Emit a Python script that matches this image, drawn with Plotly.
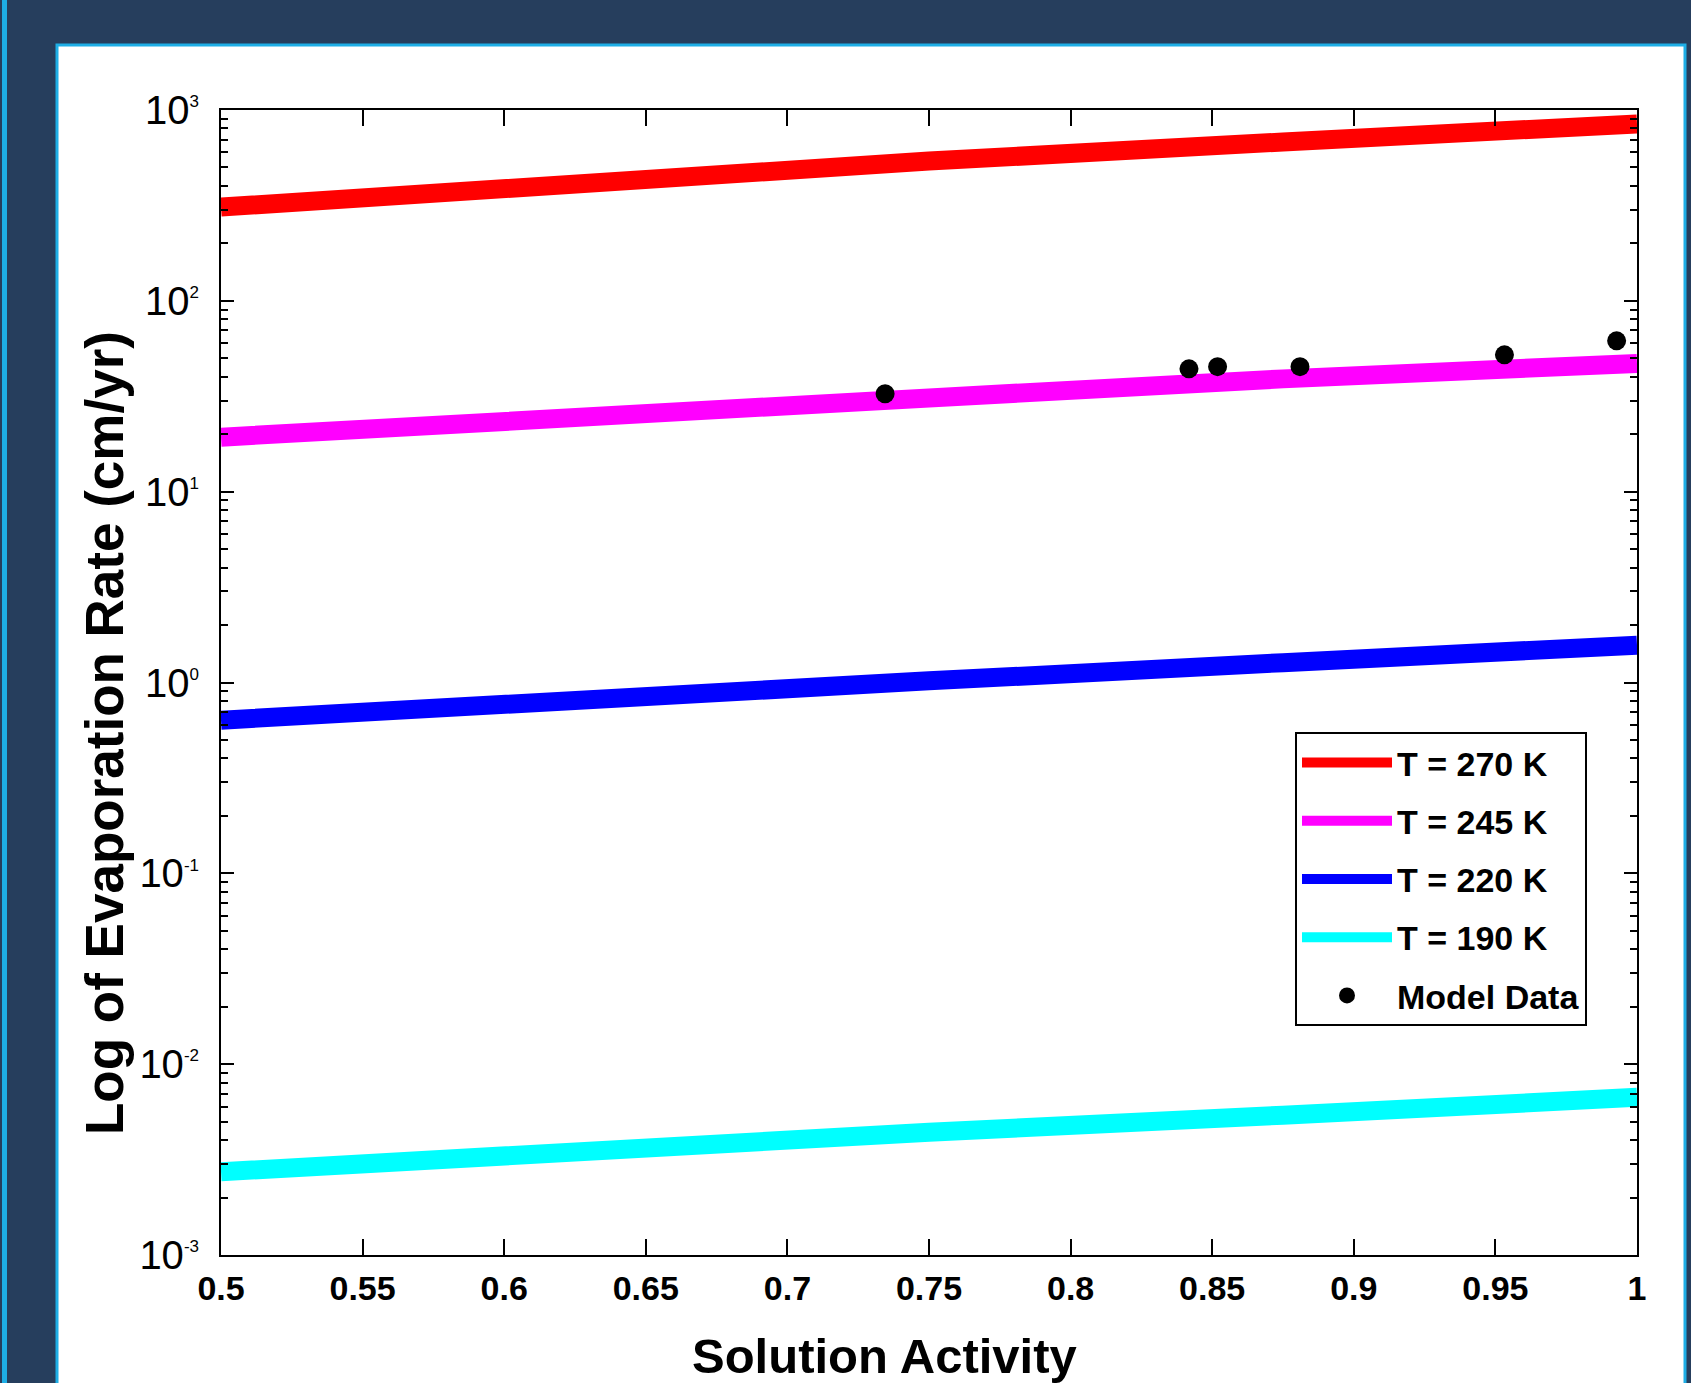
import plotly.graph_objects as go

# ---------------- data ----------------
activity = [0.5, 0.625, 0.75, 0.875, 1.0]
rate_270 = [310, 420, 540, 680, 845]
rate_245 = [19.3, 25, 31, 39, 47]
rate_220 = [0.635, 0.82, 1.02, 1.27, 1.57]
rate_190 = [0.00273, 0.0035, 0.0044, 0.0054, 0.0067]

model_activity = [0.7345, 0.8418, 0.8519, 0.881, 0.9532, 0.9928]
model_rate = [32.6, 44.0, 45.2, 45.2, 52.1, 61.7]

x_ticks = [0.5, 0.55, 0.6, 0.65, 0.7, 0.75, 0.8, 0.85, 0.9, 0.95, 1.0]
x_ticklabels = ["0.5", "0.55", "0.6", "0.65", "0.7", "0.75", "0.8", "0.85", "0.9", "0.95", "1"]
y_exponents = [-3, -2, -1, 0, 1, 2, 3]

series_names = ["T = 270 K", "T = 245 K", "T = 220 K", "T = 190 K"]
series_colors = ["#ff0000", "#ff00ff", "#0000ff", "#00ffff"]

# ---------------- layout geometry (pixels) ----------------
W, H = 1691, 1383
L, R, T, B = 221, 1637, 110, 1255
PW, PH = R - L, B - T


def px_x(px):
    return (px - L) / PW


def px_y(py):
    return (B - py) / PH


FONT = "Liberation Sans, Arial, sans-serif"
NAVY = "#263e5d"
CYAN = "#1eaee6"

fig = go.Figure()

for name, col, vals in zip(series_names, series_colors, [rate_270, rate_245, rate_220, rate_190]):
    fig.add_trace(go.Scatter(
        x=activity, y=vals, mode="lines", name=name,
        line=dict(color=col, width=19), legendgroup=name,
    ))

fig.add_trace(go.Scatter(
    x=model_activity, y=model_rate, mode="markers", name="Model Data",
    marker=dict(color="black", size=19), legendgroup="model",
))

y_tickvals = [10.0 ** e for e in y_exponents]
y_ticktext = ["10<sup><span style=\"font-size:17px\">%d</span></sup>" % e for e in y_exponents]
y_minor = [k * 10.0 ** e for e in y_exponents[:-1] for k in range(2, 10)]

fig.update_layout(
    width=W, height=H,
    paper_bgcolor=NAVY, plot_bgcolor="white",
    margin=dict(l=L, r=W - R, t=T, b=H - B, pad=0),
    font=dict(family=FONT, color="black"),
    showlegend=True,
    legend=dict(
        x=px_x(1295), y=px_y(732), xanchor="left", yanchor="top",
        bgcolor="white", bordercolor="black", borderwidth=2,
        font=dict(size=34, family=FONT, weight="bold", color="black"),
        itemwidth=90, tracegroupgap=11,
    ),
    xaxis=dict(
        range=[0.5, 1.0], tickmode="array", tickvals=x_ticks, ticktext=x_ticklabels,
        ticks="inside", ticklen=16, tickwidth=2, tickcolor="black",
        showline=True, linecolor="black", linewidth=2, mirror="ticks",
        showgrid=False, zeroline=False,
        tickfont=dict(size=34, family=FONT, weight="bold", color="black"),
        ticklabelstandoff=2,
    ),
    yaxis=dict(
        type="log", range=[-3, 3], tickmode="array", tickvals=y_tickvals, ticktext=y_ticktext,
        ticks="inside", ticklen=13, tickwidth=2, tickcolor="black",
        minor=dict(tickmode="array", tickvals=y_minor, ticks="inside", ticklen=7,
                   tickwidth=2, tickcolor="black", showgrid=False),
        showline=True, linecolor="black", linewidth=2, mirror="ticks",
        showgrid=False, zeroline=False,
        tickfont=dict(size=40, family=FONT, color="black"),
        ticklabelstandoff=12,
    ),
    shapes=[
        # white panel with cyan border
        dict(type="rect", xref="paper", yref="paper", layer="below",
             x0=px_x(57), x1=px_x(1685), y0=px_y(1420), y1=px_y(45),
             fillcolor="white", line=dict(color=CYAN, width=3)),
        # cyan strip at far left edge
        dict(type="rect", xref="paper", yref="paper", layer="below",
             x0=px_x(2), x1=px_x(7), y0=px_y(1420), y1=px_y(-20),
             fillcolor=CYAN, line=dict(width=0)),
    ],
    annotations=[
        dict(text="Log of Evaporation Rate (cm/yr)", xref="paper", yref="paper",
             x=px_x(104), y=px_y(733), textangle=-90, showarrow=False,
             xanchor="center", yanchor="middle",
             font=dict(size=53, family=FONT, weight="bold", color="black")),
        dict(text="Solution Activity", xref="paper", yref="paper",
             x=px_x(884), y=px_y(1356), showarrow=False,
             xanchor="center", yanchor="middle",
             font=dict(size=49, family=FONT, weight="bold", color="black")),
    ],
)

fig.write_html(
    "out.html",
    config={"displayModeBar": False},
    post_script="document.body.style.margin='0';"
                "document.body.style.background='#263e5d';"
                "document.body.style.overflow='hidden';",
)
